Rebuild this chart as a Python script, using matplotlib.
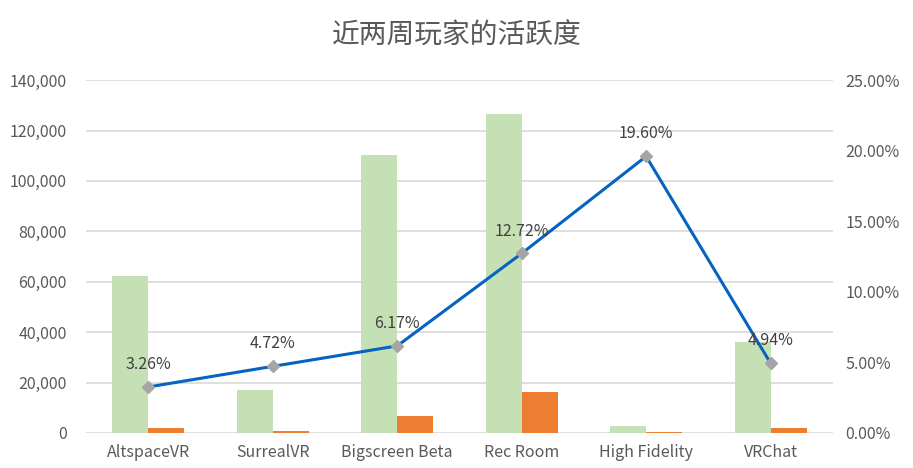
import matplotlib.pyplot as plt
from matplotlib.ticker import FuncFormatter

plt.rcParams['font.family'] = ['Noto Sans CJK SC', 'DejaVu Sans']

# 数据
platforms = ["AltspaceVR", "SurrealVR", "Bigscreen Beta", "Rec Room", "High Fidelity", "VRChat"]
players = [62300, 17100, 110300, 126600, 2800, 36100]        # 玩家数
active = [2030, 807, 6806, 16104, 549, 1783]                  # 活跃玩家
active_rate = [3.26, 4.72, 6.17, 12.72, 19.60, 4.94]          # 活跃度 %

fig = plt.figure(figsize=(9.13, 4.68), dpi=100)
ax = fig.add_axes([0.0942, 0.0748, 0.818, 0.754])

x = list(range(len(platforms)))
w = 0.29
ax.bar([i - w / 2 for i in x], players, width=w, color='#C5E0B4', zorder=2)
ax.bar([i + w / 2 for i in x], active, width=w, color='#ED7D31', zorder=2)

ax.set_xlim(-0.5, len(platforms) - 0.5)
ax.set_ylim(0, 140000)
ax.set_yticks(range(0, 140001, 20000))
ax.yaxis.set_major_formatter(FuncFormatter(lambda v, p: f"{int(v):,}"))
ax.grid(axis='y', color='#D9D9D9', linewidth=1.2, zorder=0)
ax.set_axisbelow(True)
for s in ax.spines.values():
    s.set_visible(False)
ax.set_xticks(x)
ax.set_xticklabels(platforms)
ax.tick_params(axis='both', length=0, labelsize=11.5, colors='#595959', pad=8)
ax.tick_params(axis='y', pad=14)

ax2 = ax.twinx()
ax2.set_ylim(0, 25)
ax2.set_yticks(range(0, 26, 5))
ax2.yaxis.set_major_formatter(FuncFormatter(lambda v, p: f"{v:.2f}%"))
for s in ax2.spines.values():
    s.set_visible(False)
ax2.tick_params(axis='y', length=0, labelsize=11.5, colors='#595959', pad=9)
ax2.plot(x, active_rate, color='#0563C1', linewidth=2.2, marker='D', markersize=6.5,
         markerfacecolor='#A5A5A5', markeredgecolor='#A5A5A5', zorder=3)
for i, r in zip(x, active_rate):
    ax2.annotate(f"{r:.2f}%", (i, r), xytext=(0, 10), textcoords='offset points',
                 ha='center', va='bottom', fontsize=11.5, color='#404040')

fig.suptitle("近两周玩家的活跃度", x=0.5, y=0.955, fontsize=20, color='#595959')

plt.savefig("out.png", dpi=100)
